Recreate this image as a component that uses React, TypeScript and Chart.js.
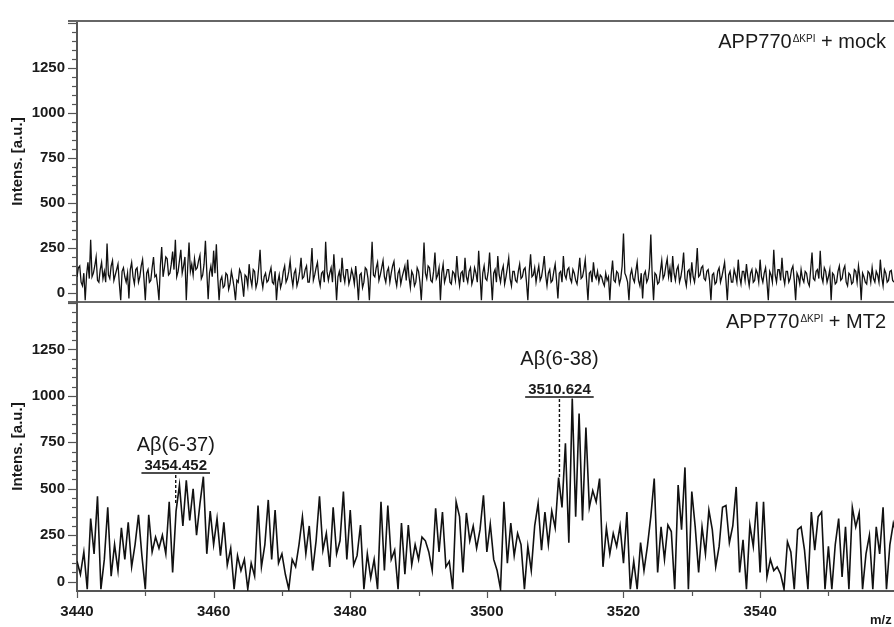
import React, { useEffect, useRef } from 'react';
import { Chart, registerables } from 'chart.js';

Chart.register(...registerables);

const FONT = '"Liberation Sans", Arial, Helvetica, sans-serif';

// m/z sampling of the two spectra
const MZ_START = 3440;
const MOCK_STEP = 0.2;
const MT2_STEP = 0.5;
const X_MIN = 3440;
const X_MAX = 3559.6;

// APP770ΔKPI + mock (top panel), intensities
const mockIntensity = [
  90, 140, 150, 60, 40, 110, -40, 100, 170, 80, 295, 90, 110, 150, 200, 70, 60, 130, 170, 80,
  120, 60, 275, 100, 80, 150, 180, 70, 100, 130, 160, 50, -40, 120, 140, 90, 60, 110, -30, 130,
  170, 90, 50, 130, 140, 60, 90, 150, 185, 80, -40, 110, 130, 60, 70, 140, 200, 90, 100, 40,
  -40, 150, 255, 90, 140, 200, 190, 100, 110, 160, 230, 130, 295, 90, 120, 180, 240, 110, 150, 200,
  -40, 140, 280, 120, 160, 100, 190, 130, 140, 180, 210, 80, 100, 160, 290, 120, -35, 110, 150, 90,
  235, 110, 270, 90, -40, 70, 90, 30, 40, 110, 100, 20, 50, 120, 80, 30, -40, 70, 60, 130,
  110, 50, -20, 100, 90, 40, 160, 80, 40, 130, 120, 30, 60, 140, 240, 80, 30, 90, 110, 60,
  70, 110, 140, 60, 50, 120, -40, 60, 100, 30, 60, 120, 150, 60, 80, 120, 180, 90, 40, 110,
  130, 40, 70, 120, 195, 80, 90, 130, 150, 60, 60, 130, 250, 70, 100, 140, 170, 80, 40, 110,
  120, 60, 285, 120, 70, 110, 140, 60, 215, 100, -40, 90, 120, 60, 195, 100, 60, 130, 130, 50,
  80, 130, 100, 50, 150, 70, -40, 100, 110, 30, 60, 140, 130, 80, -40, 120, 285, 100, 90, 140,
  170, 70, 100, 140, 180, 90, 60, 120, 140, 60, 110, 150, 175, 80, 40, 110, 130, 50, 90, 120,
  150, 70, 185, 90, 30, 120, 100, 40, 60, 140, 120, 60, -40, 100, 280, 110, 80, 150, 140, 70,
  60, 120, 225, 80, 100, 140, -40, 110, 160, 60, 90, 130, 130, 60, 50, 120, 110, 70, 205, 100,
  40, 110, 120, 60, 195, 90, 60, 120, 140, 50, 80, 140, 110, 60, 235, 100, -40, 110, 150, 80,
  70, 120, 225, 90, -40, 110, 130, 60, 205, 100, 60, 120, 150, 50, 90, 140, 195, 80, 40, 120,
  120, 70, 60, 120, 160, 80, 90, 130, 140, 60, -40, 120, 215, 90, 100, 140, 60, 110, 150, 70,
  90, 140, 205, 100, 40, 110, 130, 60, 70, 120, 160, 70, -30, 110, 120, 60, 205, 100, 80, 130,
  140, 80, 60, 130, 110, 70, 50, 120, 195, 80, 90, 130, 185, 70, -40, 110, 120, 60, 170, 100,
  80, 120, 60, 100, 90, 60, 40, 110, 70, 90, -40, 100, 180, 70, 60, 120, 110, 50, 80, 150,
  330, 110, 90, 60, -40, 100, 130, 80, 60, 120, 170, 70, 40, 110, -30, 100, 120, 60, 80, 140,
  325, 100, -40, 110, 100, 50, 60, 120, 180, 80, 100, 150, 190, 90, 140, 60, 205, 110, 70, 130,
  150, 60, 90, 140, 225, 80, 40, 120, 130, 70, 170, 90, 60, 130, 250, 90, 100, 140, 150, 80,
  70, 120, 130, 70, -40, 100, 110, 50, 60, 120, 140, 60, 90, 130, 170, 70, -40, 100, 120, 60,
  60, 130, 100, 60, 185, 90, 50, 120, 120, 70, 160, 90, 40, 110, 130, 60, 70, 130, 110, 60,
  185, 90, 60, 110, 140, 60, -40, 120, 100, 60, 240, 100, 60, 130, 130, 70, 195, 90, 50, 120,
  120, 60, 80, 130, 150, 70, -40, 110, 90, 50, 130, 80, 60, 120, 110, 60, 40, 130, 225, 80,
  70, 120, 130, 80, 235, 90, 60, 140, 120, 60, 90, 130, -40, 110, 100, 50, 60, 120, 150, 70,
  80, 130, 150, 60, 40, 110, 100, 50, 60, 130, 120, 60, 150, 90, -40, 110, 90, 60, 50, 120,
  110, 60, 140, 80, 60, 120, 100, 60, 185, 90, 40, 130, 110, 60, 70, 120, 125, 70, 60, 110,
  100,
];

// APP770ΔKPI + MT2 (bottom panel)
const mt2Intensity = [
  110, 40, 160, -40, 340, 150, 460, -40, 120, 400,
  30, 200, 60, 290, 120, 320, 80, 200, 360, 140,
  -40, 360, 160, 240, 180, 250, 150, 430, 50, 380,
  520, 300, 545, 330, 500, 250, 420, 565, 150, 380,
  200, 340, 140, 320, 90, 180, -40, 140, 60, 120,
  -40, 100, 30, 410, 80, 200, 440, 120, 385, 100,
  150, 40, -40, 120, 80, 200, 350, 150, 300, 60,
  220, 460, 170, 260, 80, 400, 150, 220, 485, 120,
  385, 90, 140, 305, -40, 150, 20, 120, -40, 430,
  60, 410, 120, 170, -40, 315, 40, 305, 90, 200,
  120, 240, 220, 160, 60, 395, 160, 375, 80, 110,
  -40, 430, 350, 50, 370, 220, 300, 180, 280, 465,
  160, 310, 120, 60, -40, 430, 100, 315, 140, 260,
  200, -40, 190, 60, 300, 420, 170, 375, 200, 380,
  290, 560, 400, 745, 210, 985, 350, 905, 330, 830,
  400, 490, 430, 555, 80, 290, 150, 260, 190, 300,
  100, 375, -40, 110, -40, 210, 60, 190, 350, 555,
  50, 295, 120, 305, 270, -40, 520, 280, 615, -40,
  485, 295, 50, 295, 150, 385, 280, 80, 190, 400,
  410, 210, 300, 510, 50, 225, -40, 305, 190, 430,
  50, 430, 25, 120, 60, 80, 40, -40, 215, 160,
  -40, 280, 295, 170, -40, 375, 170, 350, 375, -40,
  190, -40, 200, 340, 25, 295, -40, 400, 295, 370,
  -40, 150, 250, -40, 295, 150, 400, -40, 200, 315,
  250,
];

const xTickValues = [3440, 3460, 3480, 3500, 3520, 3540];
const yTickValues = [0, 250, 500, 750, 1000, 1250];
const panelNames = ['mock', 'MT2'];

// annotated peaks (bottom panel)
const peakMz = [3454.452, 3510.624];
const peakNames = ['A\u03b2(6-37)', 'A\u03b2(6-38)'];
const peakMarkTop = [574, 983];
const peakMarkBottom = [423, 563];
const peakNameLevel = [703, 1166];

function line(ctx: CanvasRenderingContext2D, x1: number, y1: number, x2: number, y2: number) {
  ctx.beginPath();
  ctx.moveTo(x1, y1);
  ctx.lineTo(x2, y2);
  ctx.stroke();
}

function drawPanelTitle(ctx: CanvasRenderingContext2D, rightX: number, baseline: number, name: string) {
  const main = 'APP770';
  const sup = '\u0394KPI';
  const tail = ' + ' + name;
  ctx.font = `20px ${FONT}`;
  const w1 = ctx.measureText(main).width;
  const w3 = ctx.measureText(tail).width;
  ctx.font = `10px ${FONT}`;
  const w2 = ctx.measureText(sup).width;
  let x = rightX - (w1 + w2 + w3 + 1);
  ctx.fillStyle = '#1a1a1a';
  ctx.textAlign = 'left';
  ctx.textBaseline = 'alphabetic';
  ctx.font = `20px ${FONT}`;
  ctx.fillText(main, x, baseline);
  x += w1 + 1;
  ctx.font = `10px ${FONT}`;
  ctx.fillText(sup, x, baseline - 6);
  x += w2;
  ctx.font = `20px ${FONT}`;
  ctx.fillText(tail, x, baseline);
}

function decoPlugin(panel: number) {
  return {
    id: 'deco' + panel,
    afterDraw(chart: any) {
      const ctx: CanvasRenderingContext2D = chart.ctx;
      const { left, right, top, bottom } = chart.chartArea;
      const xs = chart.scales.x;
      const ys = chart.scales.y;
      ctx.save();
      // y tick marks (minor every 50, major every 250)
      ctx.strokeStyle = '#555';
      ctx.lineWidth = 1.2;
      for (let v = 0; v <= 1500; v += 50) {
        const y = Math.round(ys.getPixelForValue(v)) + 0.5;
        const len = v % 250 === 0 ? 9 : 5;
        line(ctx, left - len, y, left, y);
      }
      if (panel === 0) {
        ctx.strokeStyle = '#666';
        ctx.lineWidth = 2;
        line(ctx, left - 9, top, right, top);
        line(ctx, left - 9, bottom, right, bottom);
        drawPanelTitle(ctx, 886, top + 27, panelNames[0]);
      } else {
        ctx.strokeStyle = '#555';
        ctx.lineWidth = 1.2;
        for (let v = 3440; v <= 3560; v += 10) {
          const x = Math.round(xs.getPixelForValue(v)) + 0.5;
          const len = v % 20 === 0 ? 7 : 5;
          line(ctx, x, bottom, x, bottom + len);
        }
        drawPanelTitle(ctx, 886, top + 26, panelNames[1]);
        // peak annotations
        peakMz.forEach((mz, k) => {
          const x = xs.getPixelForValue(mz);
          const yTop = ys.getPixelForValue(peakMarkTop[k]);
          const yBot = ys.getPixelForValue(peakMarkBottom[k]);
          const yName = ys.getPixelForValue(peakNameLevel[k]);
          ctx.strokeStyle = '#111';
          ctx.lineWidth = 1.4;
          ctx.setLineDash([3, 2]);
          line(ctx, x, yTop, x, yBot);
          ctx.setLineDash([]);
          const label = mz.toFixed(3);
          ctx.fillStyle = '#1a1a1a';
          ctx.textAlign = 'center';
          ctx.textBaseline = 'alphabetic';
          ctx.font = `bold 15px ${FONT}`;
          const w = ctx.measureText(label).width;
          ctx.fillText(label, x, yTop - 5);
          ctx.lineWidth = 1.6;
          line(ctx, x - w / 2 - 3, yTop - 2, x + w / 2 + 3, yTop - 2);
          ctx.font = `20px ${FONT}`;
          ctx.fillText(peakNames[k], x, yName);
        });
        ctx.font = `bold 13px ${FONT}`;
        ctx.textAlign = 'left';
        ctx.fillStyle = '#1a1a1a';
        ctx.fillText('m/z', chart.width - 24, chart.height - 3);
      }
      ctx.restore();
    },
  };
}

function makeConfig(panel: number): any {
  const isTop = panel === 0;
  const values = isTop ? mockIntensity : mt2Intensity;
  const step = isTop ? MOCK_STEP : MT2_STEP;
  const data = values.map((y, i) => ({ x: MZ_START + i * step, y }));
  return {
    type: 'line',
    data: {
      datasets: [
        {
          data,
          borderColor: '#111111',
          borderWidth: isTop ? 1.3 : 1.6,
          pointRadius: 0,
          tension: 0,
          fill: false,
        },
      ],
    },
    options: {
      animation: false,
      responsive: false,
      events: [],
      layout: {
        padding: isTop
          ? { top: 14, bottom: 325, left: 0, right: 0 }
          : { top: 302, bottom: 0, left: 0, right: 0 },
      },
      plugins: {
        legend: { display: false },
        tooltip: { enabled: false },
        title: { display: false },
      },
      scales: {
        x: {
          type: 'linear',
          min: X_MIN,
          max: X_MAX,
          grid: { display: false, drawTicks: false },
          border: { display: !isTop, color: '#555', width: 2 },
          ticks: {
            display: !isTop,
            padding: 12,
            color: '#1a1a1a',
            font: { size: 15, weight: 'bold', family: FONT },
            callback: (v: any) => String(v),
            maxRotation: 0,
            autoSkip: false,
          },
          afterBuildTicks: (s: any) => {
            s.ticks = xTickValues.map((v) => ({ value: v }));
          },
          afterFit: (s: any) => {
            s.height = isTop ? 0 : 36;
          },
        },
        y: {
          type: 'linear',
          min: -50,
          max: isTop ? 1510 : 1505,
          grid: { display: false, drawTicks: false },
          border: { display: true, color: '#555', width: 2 },
          ticks: {
            padding: 12,
            color: '#1a1a1a',
            font: { size: 15, weight: 'bold', family: FONT },
            callback: (v: any) => String(v),
            autoSkip: false,
          },
          afterBuildTicks: (s: any) => {
            s.ticks = yTickValues.map((v) => ({ value: v }));
          },
          afterFit: (s: any) => {
            s.width = 77;
          },
          title: {
            display: true,
            text: 'Intens. [a.u.]',
            color: '#1a1a1a',
            font: { size: 15, weight: 'bold', family: FONT },
            padding: { top: 9, bottom: 0 },
          },
        },
      },
    },
    plugins: [decoPlugin(panel)],
  };
}

export default function App() {
  const topRef = useRef<HTMLCanvasElement>(null);
  const botRef = useRef<HTMLCanvasElement>(null);
  useEffect(() => {
    Chart.defaults.font.family = FONT;
    const c1 = new Chart(topRef.current as HTMLCanvasElement, makeConfig(0));
    const c2 = new Chart(botRef.current as HTMLCanvasElement, makeConfig(1));
    return () => {
      c1.destroy();
      c2.destroy();
    };
  }, []);
  return (
    <div
      style={{
        position: 'fixed',
        left: 0,
        top: 0,
        width: 894,
        height: 627,
        background: '#fff',
        overflow: 'hidden',
      }}
    >
      <canvas ref={topRef} width={894} height={627} style={{ position: 'absolute', left: 0, top: 0 }} />
      <canvas ref={botRef} width={894} height={627} style={{ position: 'absolute', left: 0, top: 0 }} />
    </div>
  );
}
